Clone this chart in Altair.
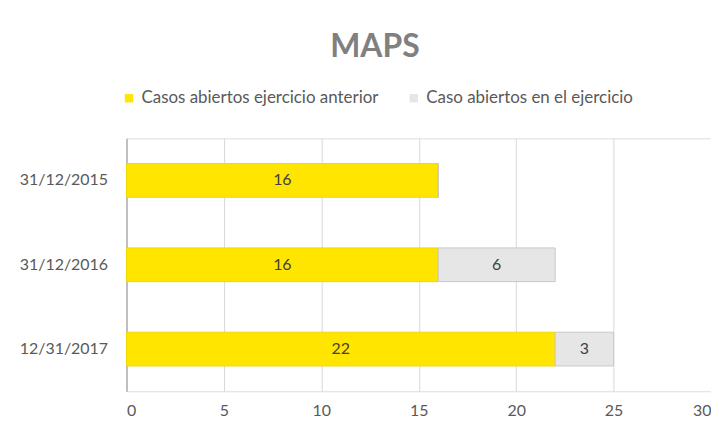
import altair as alt
import pandas as pd

fechas = ["31/12/2015", "31/12/2016", "12/31/2017"]
anterior = [16, 16, 22]
ejercicio = [0, 6, 3]
series = ["Casos abiertos ejercicio anterior", "Caso abiertos en el ejercicio"]
colores = ["#FFE500", "#E6E6E6"]
bordes = ["#F0D800", "#C8C8C8"]
ticks_x = [0, 5, 10, 15, 20, 25, 30]

rows = []
for i, f in enumerate(fechas):
    rows.append({"fecha": f, "serie": series[0], "valor": anterior[i], "orden": 0})
    rows.append({"fecha": f, "serie": series[1], "valor": ejercicio[i], "orden": 1})
df = pd.DataFrame(rows)

FONT = "Lato"

base = alt.Chart(df).transform_stack(
    stack="valor", groupby=["fecha"], as_=["x0", "x1"], sort=[alt.SortField("orden")]
).transform_calculate(mid="(datum.x0 + datum.x1) / 2")

y_enc = alt.Y(
    "fecha:N",
    sort=fechas,
    scale=alt.Scale(paddingInner=0.6, paddingOuter=0.3),
    axis=alt.Axis(
        title=None, ticks=False, domainColor="#BFBFBF", domainWidth=2,
        labelPadding=19, labelFontSize=16, labelColor="#595959", labelFont=FONT, grid=False,
    ),
)

bars = base.mark_bar(strokeWidth=1).encode(
    y=y_enc,
    x=alt.X(
        "x0:Q",
        scale=alt.Scale(domain=[0, 30], nice=False),
        axis=alt.Axis(
            title=None, values=ticks_x, domain=False, ticks=False, gridColor="#D9D9D9",
            labelPadding=11, labelFontSize=16, labelColor="#595959", labelFont=FONT,
        ),
    ),
    x2="x1:Q",
    color=alt.Color(
        "serie:N",
        scale=alt.Scale(domain=series, range=colores),
        legend=alt.Legend(
            title=None, orient="none", direction="horizontal", legendX=-6, legendY=-49,
            symbolType="square", symbolSize=70, symbolStrokeWidth=0,
            labelFontSize=17, labelColor="#595959", labelFont=FONT, labelLimit=0,
            columnPadding=26,
        ),
    ),
    stroke=alt.Stroke("serie:N", scale=alt.Scale(domain=series, range=bordes), legend=None),
)

labels = base.transform_filter("datum.valor > 0").mark_text(
    fontSize=16, color="#404040", font=FONT
).encode(
    y=alt.Y("fecha:N", sort=fechas),
    x=alt.X("mid:Q"),
    text=alt.Text("valor:Q"),
)

chart = alt.layer(bars, labels).properties(
    width=587,
    height=254,
    title=alt.TitleParams(
        "MAPS", fontSize=32, font=FONT, fontWeight="bold", color="#808080",
        anchor="middle", dx=-44, offset=26,
    ),
    autosize=alt.AutoSizeParams(type="none"),
    padding={"left": 119, "top": 130, "right": 0, "bottom": 30},
).configure_view(stroke=None).configure(background="white")

chart.save("out.html", embed_options={"renderer": "svg", "actions": False})
